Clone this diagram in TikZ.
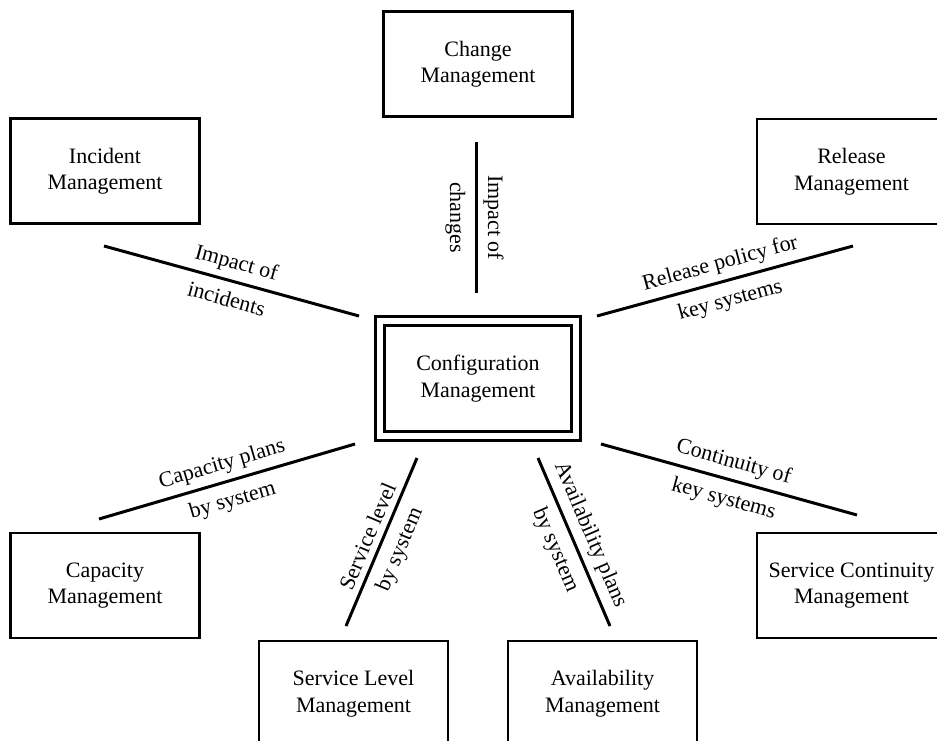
\documentclass[tikz,border=0pt]{standalone}
\usepackage{fontspec}
\setmainfont{Liberation Serif}
\begin{document}
\begin{tikzpicture}[x=1pt,y=-1pt,
  every node/.style={font=\fontsize{22}{26.5}\selectfont, align=center},
  process/.style={draw, line width=2.8pt, rectangle, minimum width=189pt, minimum height=105pt, inner sep=0pt},
  hub/.style={draw, line width=2.8pt, double, double distance=6.2pt, rectangle, minimum width=196.5pt, minimum height=115.5pt, inner sep=0pt},
  link/.style={line width=3pt},
  upper/.style={midway, sloped, above, inner sep=6pt},
  lower/.style={midway, sloped, below, inner sep=9pt}]
\useasboundingbox (0,0) rectangle (937,740);
\clip (0,0) rectangle (937,740);

% processes around the hub
\node[hub]     (cfg) at (478,378.5) {Configuration\\Management};
\node[process] (chg) at (478,64)    {Change\\Management};
\node[process] (inc) at (105,171)   {Incident\\Management};
\node[process] (rel) at (851.5,171.5) {Release\\Management};
\node[process] (cap) at (105,585.5) {Capacity\\Management};
\node[process] (slm) at (353.5,693.5) {Service Level\\Management};
\node[process] (avl) at (602.5,693.5) {Availability\\Management};
\node[process] (scm) at (851.5,585.5) {Service Continuity\\Management};

% free-standing ends of the relation lines
\coordinate (chg-a) at (476,142);  \coordinate (chg-b) at (476,293);
\coordinate (inc-a) at (104,246);  \coordinate (inc-b) at (359,316);
\coordinate (rel-a) at (597,316);  \coordinate (rel-b) at (853,246);
\coordinate (cap-a) at (99,519);   \coordinate (cap-b) at (355,444);
\coordinate (slm-a) at (346,626);  \coordinate (slm-b) at (417,458);
\coordinate (avl-a) at (538,458);  \coordinate (avl-b) at (610,626);
\coordinate (scm-a) at (601,444);  \coordinate (scm-b) at (857,515);

% relations with their two-line labels
\draw[link] (chg-a) -- node[upper]{Impact of} node[lower]{changes} (chg-b);
\draw[link] (inc-a) -- node[upper]{Impact of} node[lower]{incidents} (inc-b);
\draw[link] (rel-a) -- node[upper]{Release policy for} node[lower]{key systems} (rel-b);
\draw[link] (cap-a) -- node[upper]{Capacity plans} node[lower]{by system} (cap-b);
\draw[link] (slm-a) -- node[upper]{Service level} node[lower]{by system} (slm-b);
\draw[link] (avl-a) -- node[upper]{Availability plans} node[lower]{by system} (avl-b);
\draw[link] (scm-a) -- node[upper]{Continuity of} node[lower]{key systems} (scm-b);
\end{tikzpicture}
\end{document}
